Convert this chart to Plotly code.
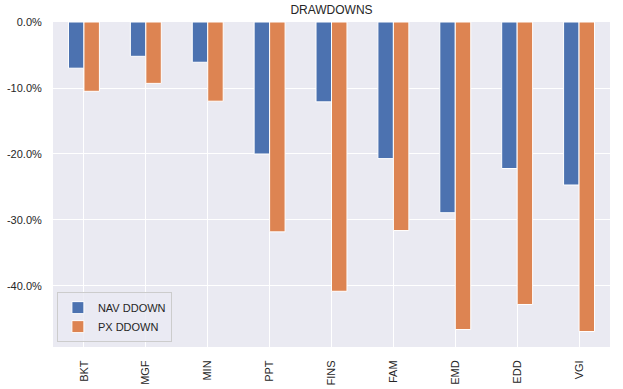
import plotly.graph_objects as go

categories = ["BKT", "MGF", "MIN", "PPT", "FINS", "FAM", "EMD", "EDD", "VGI"]
nav_ddown = [-7.0, -5.2, -6.1, -20.0, -12.1, -20.7, -28.9, -22.2, -24.7]
px_ddown = [-10.5, -9.3, -12.0, -31.8, -40.8, -31.6, -46.6, -42.8, -46.9]
y_tick_vals = [0, -10, -20, -30, -40]
y_tick_text = ["0.0%", "-10.0%", "-20.0%", "-30.0%", "-40.0%"]

font_family = "Liberation Sans, Arial, sans-serif"
text_color = "#262626"

fig = go.Figure()
fig.add_trace(go.Bar(x=categories, y=nav_ddown, name="NAV DDOWN",
                     marker=dict(color="#4C72B0", line=dict(color="white", width=1))))
fig.add_trace(go.Bar(x=categories, y=px_ddown, name="PX DDOWN",
                     marker=dict(color="#DD8452", line=dict(color="white", width=1))))

ymin = min(px_ddown + nav_ddown) * 1.05

fig.update_layout(
    width=623, height=389,
    margin=dict(l=53, r=13, t=22, b=42, autoexpand=False),
    paper_bgcolor="white",
    plot_bgcolor="#EAEAF2",
    barmode="group", bargap=0.5, bargroupgap=0,
    font=dict(family=font_family, size=11, color=text_color),
    title=dict(text="DRAWDOWNS", x=0.5, xanchor="center", xref="paper",
               y=1, yref="container", yanchor="top", pad=dict(t=6),
               font=dict(size=12, color=text_color), automargin=False),
    showlegend=True,
    legend=dict(x=0.007, y=0.015, xanchor="left", yanchor="bottom",
                bgcolor="rgba(234,234,242,0.8)", bordercolor="#cccccc", borderwidth=1,
                font=dict(size=11, color=text_color), tracegroupgap=0,
                itemwidth=30),
    xaxis=dict(showgrid=True, gridcolor="white", gridwidth=1.2, tickangle=-90,
               ticks="outside", ticklen=8, tickcolor="rgba(0,0,0,0)",
               zeroline=False, showline=False, automargin=False,
               range=[-0.5, len(categories) - 0.5]),
    yaxis=dict(showgrid=True, gridcolor="white", gridwidth=1.2,
               tickvals=y_tick_vals, ticktext=y_tick_text,
               ticks="outside", ticklen=8, tickcolor="rgba(0,0,0,0)",
               zeroline=False, showline=False, automargin=False, range=[ymin, 0]),
)

fig.write_html("out.html", config={"displayModeBar": False},
               post_script="document.body.style.margin='0';")
